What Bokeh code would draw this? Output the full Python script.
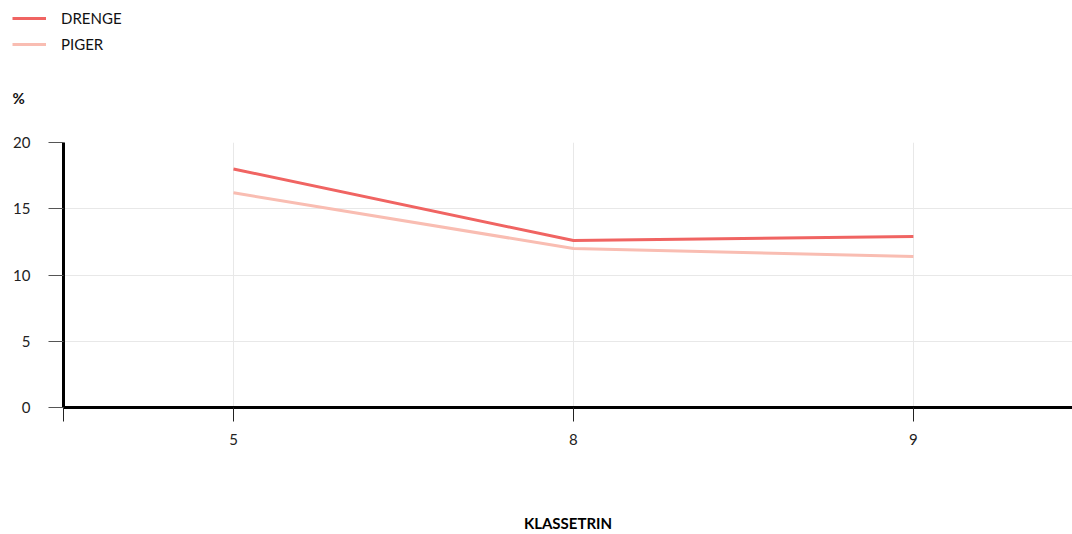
from bokeh.plotting import figure
from bokeh.layouts import column
from bokeh.models import (FixedTicker, Legend, LegendItem, Label, Range1d, ColumnDataSource)
from bokeh.embed import file_html
from bokeh.resources import INLINE

klassetrin = ["5", "8", "9"]
drenge = [18.0, 12.6, 12.9]
piger = [16.2, 12.0, 11.4]
y_ticks = [0, 5, 10, 15, 20]
y_unit = "%"
x_title = "KLASSETRIN"
series_names = ["DRENGE", "PIGER"]

FONT = "Lato"
RED = "#f06462"
PINK = "#f9bdb2"
W = 1072
HEAD_H = 130

xs = list(range(len(klassetrin)))
src = ColumnDataSource(dict(x=xs, drenge=drenge, piger=piger))

# ---------- header: legend + unit label ----------
head = figure(width=W, height=HEAD_H, output_backend="svg", toolbar_location=None,
              x_range=Range1d(0, W), y_range=Range1d(0, HEAD_H),
              x_axis_type=None, y_axis_type=None,
              min_border=0, min_border_left=0, min_border_right=0,
              min_border_top=0, min_border_bottom=0)
head.frame_align = False
head.outline_line_color = None
head.grid.visible = False
nan = float("nan")
h1 = head.line(x=[nan, nan], y=[nan, nan], line_color=RED, line_width=3)
h2 = head.line(x=[nan, nan], y=[nan, nan], line_color=PINK, line_width=3)
legend = Legend(items=[LegendItem(label=series_names[0], renderers=[h1]),
                       LegendItem(label=series_names[1], renderers=[h2])],
                location=(12, HEAD_H - 54), orientation="vertical",
                padding=0, margin=0, spacing=6, label_height=20, glyph_height=20,
                glyph_width=34, label_standoff=15,
                label_text_font=FONT, label_text_font_size="15px", label_text_color="#111111",
                background_fill_alpha=0, border_line_color=None)
head.add_layout(legend, "center")
head.add_layout(Label(x=12, y=HEAD_H - 97, text=y_unit, text_font=FONT,
                      text_font_style="bold", text_font_size="15px",
                      text_color="#111111", text_baseline="middle"))

# ---------- main chart ----------
p = figure(width=W, height=534 - HEAD_H, output_backend="svg", toolbar_location=None,
           x_range=Range1d(-0.5, len(klassetrin) - 0.532), y_range=Range1d(0, 20),
           min_border_left=63, min_border_right=0, min_border_top=142 - HEAD_H,
           min_border_bottom=126)
p.frame_align = False
p.outline_line_color = None

p.line("x", "drenge", source=src, line_color=RED, line_width=3)
p.line("x", "piger", source=src, line_color=PINK, line_width=3)

p.xaxis.ticker = FixedTicker(ticks=[-0.5] + xs)
p.xaxis.major_label_overrides = {-0.5: ""} | {i: k for i, k in zip(xs, klassetrin)}
p.xaxis.axis_line_color = "black"
p.xaxis.axis_line_width = 3
p.xaxis.major_tick_line_color = "#222222"
p.xaxis.major_tick_out = 14
p.xaxis.major_tick_in = 0
p.xaxis.minor_tick_line_color = None
p.xaxis.major_label_standoff = 12
p.xaxis.major_label_text_font = FONT
p.xaxis.major_label_text_font_size = "15px"
p.xaxis.major_label_text_color = "#222222"
p.xaxis.axis_label = x_title
p.xaxis.axis_label_text_font = FONT
p.xaxis.axis_label_text_font_style = "bold"
p.xaxis.axis_label_text_font_size = "15px"
p.xaxis.axis_label_text_color = "black"
p.xaxis.axis_label_standoff = 66

p.yaxis.ticker = FixedTicker(ticks=y_ticks)
p.yaxis.axis_line_color = "black"
p.yaxis.axis_line_width = 3
p.yaxis.major_tick_line_color = "#555555"
p.yaxis.major_tick_out = 15
p.yaxis.major_tick_in = 0
p.yaxis.minor_tick_line_color = None
p.yaxis.major_label_standoff = 18
p.yaxis.major_label_text_font = FONT
p.yaxis.major_label_text_font_size = "15px"
p.yaxis.major_label_text_color = "#222222"

p.xgrid.ticker = FixedTicker(ticks=xs)
p.xgrid.grid_line_color = "#e8e8e8"
p.ygrid.grid_line_color = "#e8e8e8"

layout = column(head, p, spacing=0)
open("out.html", "w").write(file_html(layout, INLINE))
